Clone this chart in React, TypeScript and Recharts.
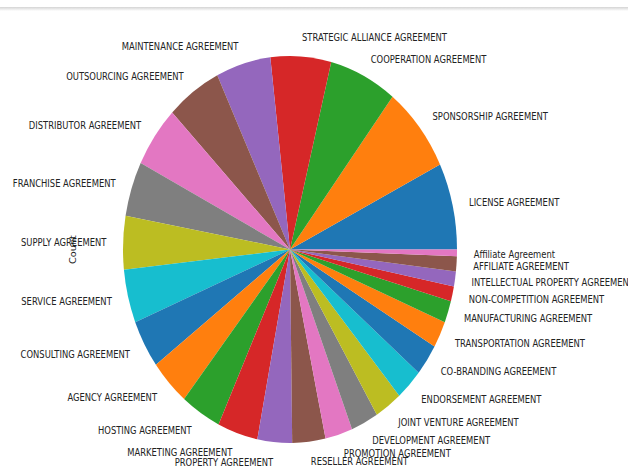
import { PieChart, Pie, Cell } from 'recharts';

const categories = [
  'LICENSE AGREEMENT',
  'SPONSORSHIP AGREEMENT',
  'COOPERATION AGREEMENT',
  'STRATEGIC ALLIANCE AGREEMENT',
  'MAINTENANCE AGREEMENT',
  'OUTSOURCING AGREEMENT',
  'DISTRIBUTOR AGREEMENT',
  'FRANCHISE AGREEMENT',
  'SUPPLY AGREEMENT',
  'SERVICE AGREEMENT',
  'CONSULTING AGREEMENT',
  'AGENCY AGREEMENT',
  'HOSTING AGREEMENT',
  'MARKETING AGREEMENT',
  'PROPERTY AGREEMENT',
  'RESELLER AGREEMENT',
  'PROMOTION AGREEMENT',
  'DEVELOPMENT AGREEMENT',
  'JOINT VENTURE AGREEMENT',
  'ENDORSEMENT AGREEMENT',
  'CO-BRANDING AGREEMENT',
  'TRANSPORTATION AGREEMENT',
  'MANUFACTURING AGREEMENT',
  'NON-COMPETITION AGREEMENT',
  'INTELLECTUAL PROPERTY AGREEMENT',
  'AFFILIATE AGREEMENT',
  'Affiliate Agreement',
];

const counts = [
  52, 52, 47, 42, 38, 38, 37, 33, 32, 32, 29, 28, 28, 28, 24, 23, 19, 19, 19, 19, 19, 16, 13, 9, 9, 9, 4,
];

// matplotlib tab10 cycle
const COLORS = [
  '#1f77b4', '#ff7f0e', '#2ca02c', '#d62728', '#9467bd',
  '#8c564b', '#e377c2', '#7f7f7f', '#bcbd22', '#17becf',
];

const data = categories.map((name, i) => ({ name, count: counts[i] }));

// the screenshot is stretched vertically, so draw flat and scale the whole chart
const SY = 193.5 / 167;
const W = 628;
const H = 468 / SY;
const CX = 290;
const CY = 249.5 / SY;
const R = 167;

const FONT = 'DejaVu Sans, sans-serif';

function renderLabel(props: any) {
  const { cx, cy, midAngle, outerRadius, name } = props;
  const rad = (-midAngle * Math.PI) / 180;
  const dx = Math.cos(rad);
  const x = cx + outerRadius * 1.1 * dx;
  const y = cy + outerRadius * 1.1 * Math.sin(rad) + 1;
  return (
    <text
      x={x}
      y={y}
      textAnchor={dx >= -1e-9 ? 'start' : 'end'}
      dominantBaseline="central"
      fontSize={8.4}
      fontFamily={FONT}
      fill="#222"
    >
      {name}
    </text>
  );
}

export default function App() {
  return (
    <div
      style={{
        position: 'absolute',
        left: 0,
        top: 0,
        width: 628,
        height: 468,
        overflow: 'hidden',
        background: '#fff',
      }}
    >
      <svg width={628} height={8} style={{ position: 'absolute', left: 0, top: 0 }}>
        <text x={174} y={-9} fontSize={42} fontFamily="Liberation Serif, serif" fill="#222">
          Agreement Types
        </text>
      </svg>
      <div
        style={{
          position: 'absolute',
          left: 0,
          top: 7,
          width: 628,
          height: 4,
          background: 'linear-gradient(#d4d4d4, #ffffff)',
        }}
      />
      <div
        style={{
          position: 'absolute',
          left: 0,
          top: 0,
          width: W,
          height: H,
          transform: `scaleY(${SY})`,
          transformOrigin: '0 0',
        }}
      >
        <PieChart width={W} height={H} margin={{ top: 0, right: 0, bottom: 0, left: 0 }}>
          <Pie
            data={data}
            dataKey="count"
            nameKey="name"
            cx={CX}
            cy={CY}
            outerRadius={R}
            startAngle={0}
            endAngle={360}
            stroke="none"
            label={renderLabel}
            labelLine={false}
            isAnimationActive={false}
          >
            {data.map((d, i) => (
              <Cell key={d.name} fill={COLORS[i % COLORS.length]} />
            ))}
          </Pie>
          <text
            x={73}
            y={CY}
            transform={`rotate(-90 73 ${CY})`}
            textAnchor="middle"
            dominantBaseline="central"
            fontSize={8.4}
            fontFamily={FONT}
            fill="#222"
          >
            Count
          </text>
        </PieChart>
      </div>
    </div>
  );
}
